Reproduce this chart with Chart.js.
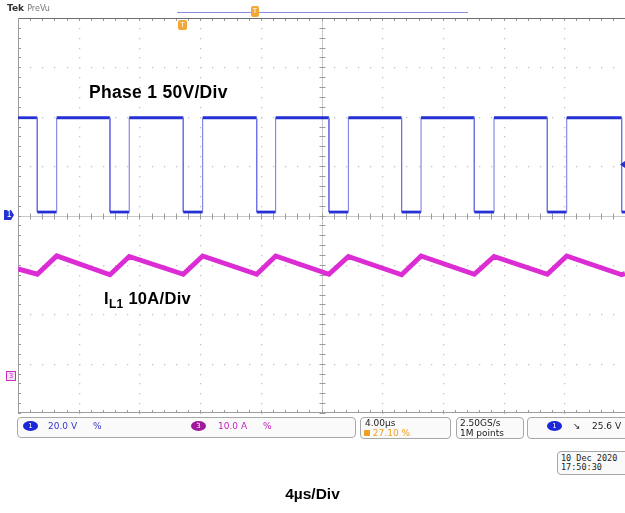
<!DOCTYPE html>
<html>
<head>
<meta charset="utf-8">
<script src="https://cdn.jsdelivr.net/npm/chart.js@4.4.1/dist/chart.umd.min.js"></script>
<style>
body { margin:0; background:#fff; }
#wrap { position:relative; width:625px; height:513px; overflow:hidden; font-family:"DejaVu Sans", sans-serif; }
#scope { position:absolute; left:0; top:0; }
.t { position:absolute; white-space:nowrap; }
.lbl { font-family:"Liberation Sans", Arial, sans-serif; font-weight:bold; color:#000; }
.box { position:absolute; border:1px solid #a8a8a8; border-radius:4px; background:#fafafa; }
.st { position:absolute; font-size:9px; line-height:10px; white-space:nowrap; }
.oval { position:absolute; width:15px; height:10px; border-radius:50%; color:#fff; font-size:7px; line-height:10px; text-align:center; }
</style>
</head>
<body>
<div id="wrap">
<canvas id="scope" width="625" height="513"></canvas>

<div class="t" style="left:7px;top:3px;font-size:9px;font-weight:bold;color:#333">Tek <span style="font-weight:normal;color:#777;font-size:8px">PreVu</span></div>
<div style="position:absolute;left:177px;top:12px;width:291px;height:1px;background:#8a8ae0"></div>
<div class="t" style="left:251px;top:6px;width:8px;height:11px;background:#f2a838;border-radius:2px;color:#fff;font-size:7px;line-height:11px;text-align:center">T</div>
<div class="t" style="left:178px;top:20px;width:9px;height:10px;background:#f2a838;border-radius:2px;color:#fff;font-size:7px;line-height:10px;text-align:center">T</div>

<div class="t lbl" style="left:89px;top:82px;font-size:17.5px;letter-spacing:0.3px">Phase 1 50V/Div</div>
<div class="t lbl" style="left:104px;top:289px;font-size:16.5px;letter-spacing:0.3px">I<sub style="font-size:12px;vertical-align:-4px">L1</sub> 10A/Div</div>

<div class="t" style="left:4px;top:210px;width:10px;height:10px;background:#2830d0;color:#fff;font-size:8px;line-height:10px;text-align:center;clip-path:polygon(0 0,70% 0,100% 50%,70% 100%,0 100%)">1</div>
<div class="t" style="left:6px;top:371px;width:8px;height:8px;border:1px solid #c830c0;background:#f8e0f6;color:#c830c0;font-size:7px;line-height:8px;text-align:center">3</div>
<div class="t" style="left:620px;top:161px;width:5px;height:7px;background:#2830d0;clip-path:polygon(100% 0,0 50%,100% 100%)"></div>

<div class="box" style="left:17px;top:417px;width:337px;height:19px"></div>
<div class="oval" style="left:23px;top:421px;background:#1c28d8">1</div>
<div class="st" style="left:48px;top:421px;color:#3434c8">20.0 V</div>
<div class="st" style="left:93px;top:421px;color:#3434c8">%</div>
<div class="oval" style="left:191px;top:421px;background:#a0189c">3</div>
<div class="st" style="left:218px;top:421px;color:#c020c0">10.0 A</div>
<div class="st" style="left:263px;top:421px;color:#c020c0">%</div>

<div class="box" style="left:360px;top:417px;width:89px;height:20px"></div>
<div class="st" style="left:365px;top:418px;color:#222">4.00µs</div>
<div class="st" style="left:364px;top:428px;color:#f0a020"><span style="display:inline-block;width:6px;height:6px;background:#f0a020;border-radius:1px"></span> 27.10 %</div>

<div class="box" style="left:456px;top:417px;width:66px;height:20px"></div>
<div class="st" style="left:460px;top:418px;color:#222">2.50GS/s</div>
<div class="st" style="left:460px;top:428px;color:#222">1M points</div>

<div class="box" style="left:527px;top:417px;width:110px;height:20px"></div>
<div class="oval" style="left:547px;top:421px;background:#1c28d8">1</div>
<div class="st" style="left:573px;top:421px;color:#222">↘</div>
<div class="st" style="left:592px;top:421px;color:#222">25.6 V</div>

<div class="box" style="left:557px;top:451px;width:80px;height:22px"></div>
<div class="st" style="left:561px;top:453px;color:#222;font-family:'DejaVu Sans Mono',monospace;font-size:8.5px">10 Dec 2020</div>
<div class="st" style="left:561px;top:462px;color:#222;font-family:'DejaVu Sans Mono',monospace;font-size:8.5px">17:50:30</div>

<div class="t lbl" style="left:0;width:625px;text-align:center;top:485px;font-size:15.5px">4µs/Div</div>
</div>

<script>
// time in µs (4 µs/div, 10 div), level in divisions (8 div, 0 = centre)
var timeMin = 0, timeMax = 40;
var divMin = -4, divMax = 4;

// phase 1 switch node: falling and rising edge times
var fallTimes = [1.27, 6.06, 10.89, 15.73, 20.49, 25.28, 30.07, 34.88, 39.78];
var riseTimes = [2.55, 7.33, 12.17, 16.98, 21.77, 26.56, 31.37, 36.16];
var phaseHigh = 1.98;
var phaseLow = 0.07;

// inductor current: valleys at falling edges, peaks at rising edges
var iStart = -1.08;
var iValleys = [-1.19, -1.20, -1.19, -1.19, -1.19, -1.20, -1.19, -1.19, -1.20];
var iPeaks = [-0.82, -0.83, -0.82, -0.82, -0.83, -0.82, -0.83, -0.82];
var iEnd = -1.18;

var phase_pts = [{x: timeMin, y: phaseHigh}];
for (var i = 0; i < fallTimes.length; i++) {
	phase_pts.push({x: fallTimes[i], y: phaseHigh});
	phase_pts.push({x: fallTimes[i], y: phaseLow});
	if (i < riseTimes.length) {
		phase_pts.push({x: riseTimes[i], y: phaseLow});
		phase_pts.push({x: riseTimes[i], y: phaseHigh});
	}
}
phase_pts.push({x: timeMax, y: phaseLow});

var cur_pts = [{x: timeMin, y: iStart}];
for (var i = 0; i < fallTimes.length; i++) {
	cur_pts.push({x: fallTimes[i], y: iValleys[i]});
	if (i < riseTimes.length) cur_pts.push({x: riseTimes[i], y: iPeaks[i]});
}
cur_pts.push({x: timeMax, y: iEnd});

// tek style graticule drawn from the scales
var graticule = {
	id: 'graticule',
	beforeDatasetsDraw: function(chart) {
		var ctx = chart.ctx, a = chart.chartArea;
		var xs = chart.scales.x, ys = chart.scales.y;
		ctx.save();
		ctx.fillStyle = '#c4c4c4';
		for (var i = 1; i < 10; i++) {
			if (i == 5) continue;
			var px = Math.round(xs.getPixelForValue(i * 4));
			for (var j = 0; j <= 40; j++) {
				ctx.fillRect(px, Math.round(ys.getPixelForValue(divMin + j * 0.2)), 1.3, 1.3);
			}
		}
		for (var k = 1; k < 8; k++) {
			if (k == 4) continue;
			var py = Math.round(ys.getPixelForValue(divMin + k));
			for (var j = 0; j <= 50; j++) {
				ctx.fillRect(Math.round(xs.getPixelForValue(j * 0.8)), py, 1.3, 1.3);
			}
		}
		// centre cross with minor ticks
		var cx = Math.round(xs.getPixelForValue(20)) + 0.5;
		var cy = Math.round(ys.getPixelForValue(0)) + 0.5;
		ctx.strokeStyle = '#c8c8c8';
		ctx.lineWidth = 1;
		ctx.beginPath();
		ctx.moveTo(cx, a.top); ctx.lineTo(cx, a.bottom);
		ctx.moveTo(a.left, cy); ctx.lineTo(a.right, cy);
		ctx.stroke();
		ctx.strokeStyle = '#9a9a9a';
		ctx.beginPath();
		for (var j = 0; j <= 40; j++) {
			var ty = Math.round(ys.getPixelForValue(divMin + j * 0.2)) + 0.5;
			ctx.moveTo(cx - 3, ty); ctx.lineTo(cx + 3, ty);
			ctx.moveTo(a.left, ty); ctx.lineTo(a.left + 3, ty);
		}
		for (var j = 0; j <= 50; j++) {
			var tx = Math.round(xs.getPixelForValue(j * 0.8)) + 0.5;
			ctx.moveTo(tx, cy - 3); ctx.lineTo(tx, cy + 3);
			ctx.moveTo(tx, a.top); ctx.lineTo(tx, a.top + 3);
			ctx.moveTo(tx, a.bottom); ctx.lineTo(tx, a.bottom - 3);
		}
		ctx.stroke();
		// frame
		ctx.strokeStyle = '#6e6e6e';
		ctx.beginPath();
		ctx.moveTo(a.left, a.top + 0.5); ctx.lineTo(a.right, a.top + 0.5);
		ctx.stroke();
		ctx.strokeStyle = '#9c9c9c';
		ctx.beginPath();
		ctx.moveTo(a.left + 0.5, a.top); ctx.lineTo(a.left + 0.5, a.bottom);
		ctx.moveTo(a.left, a.bottom - 0.5); ctx.lineTo(a.right, a.bottom - 0.5);
		ctx.stroke();
		ctx.restore();
	}
};

var scope_conf = {
	type: 'line',
	data: {
		datasets: [
			{
				label: 'Phase 1',
				data: phase_pts,
				borderColor: '#2430d4',
				borderWidth: 2.5,
				pointRadius: 0,
				tension: 0,
				segment: {
					borderWidth: function(c) { return c.p0.parsed.x == c.p1.parsed.x ? 1 : 2.8; },
					borderColor: function(c) { return c.p0.parsed.x == c.p1.parsed.x ? '#6f74e4' : '#2430d4'; }
				}
			},
			{
				label: 'IL1',
				data: cur_pts,
				borderColor: '#dc2cd4',
				borderWidth: 5,
				pointRadius: 0,
				tension: 0,
				borderJoinStyle: 'miter'
			}
		]
	},
	options: {
		responsive: false,
		animation: false,
		layout: { padding: { left: 18, top: 18, right: 0, bottom: 100 } },
		plugins: { legend: { display: false }, tooltip: { enabled: false } },
		scales: {
			x: { type: 'linear', min: timeMin, max: timeMax, display: false },
			y: { type: 'linear', min: divMin, max: divMax, display: false }
		}
	},
	plugins: [graticule]
};

var chart1 = new Chart(document.getElementById("scope"), scope_conf);
</script>
</body>
</html>
